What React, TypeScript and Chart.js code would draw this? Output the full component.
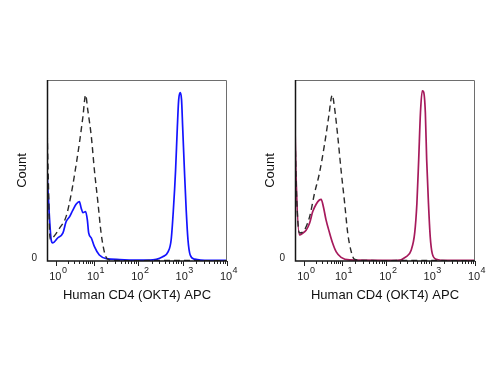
import React, { useEffect, useRef } from "react";
import { Chart, registerables } from "chart.js";

Chart.register(...registerables);

// ---- Text / tick data ----
const X_TITLE = "Human CD4 (OKT4) APC";
const Y_TITLE = "Count";
const Y_TICK_VALUES = [0];
const Y_TICK_LABELS = ["0"];
const DECADE_BASE = "10";
const DECADE_EXPONENTS = ["0", "1", "2", "3", "4"];
// display position (in decade units on the biexponential display axis) of each decade label
const DECADE_POSITIONS = [0.15, 1, 2, 3, 4];
const MINOR_MULTIPLIERS = [2, 3, 4, 5, 6, 7, 8, 9];
const X_MIN = -0.06;
const X_MAX = 4;
const Y_MIN = 0;
const Y_MAX = 100;

// ---- Left panel: stained (blue) vs isotype control (dashed) ----
const LEFT_CTRL_X = [-0.06, -0.03, 0.01, 0.11, 0.22, 0.37, 0.49, 0.56, 0.67, 0.75, 0.81, 0.86, 0.94, 1.01, 1.09, 1.16, 1.24, 1.31, 1.5, 2.0, 2.5, 3.0, 3.5, 4.0];
const LEFT_CTRL_Y = [76, 45, 12, 14, 18, 24.5, 37.5, 47.5, 65, 79.7, 91.7, 83.4, 68.7, 50, 32, 15.5, 4.4, 1, 0.3, 0.2, 0.3, 0.3, 0.2, 0.2];

const LEFT_STAIN_X = [-0.06, -0.04, 0.035, 0.07, 0.18, 0.3, 0.37, 0.45, 0.52, 0.6, 0.67, 0.71, 0.75, 0.81, 0.85, 0.88, 0.94, 1.01, 1.12, 1.28, 1.58, 1.87, 2.25, 2.55, 2.67, 2.74, 2.79, 2.84, 2.88, 2.91, 2.945, 2.975, 3.0, 3.04, 3.08, 3.12, 3.17, 3.27, 3.6, 4.0];
const LEFT_STAIN_Y = [50, 40, 11.6, 10, 12.7, 15.5, 21.7, 24.5, 28, 31.5, 32.8, 29.3, 26.7, 27.3, 22.7, 15.5, 12.7, 7.9, 3.3, 1.3, 0.8, 0.5, 0.5, 2.4, 5, 11.6, 28, 50, 74, 89, 93, 89, 74, 50, 28, 11.6, 3.3, 1, 0.3, 0.3];

// ---- Right panel: stained (crimson) vs isotype control (dashed) ----
const RIGHT_CTRL_X = [-0.06, -0.03, 0.04, 0.15, 0.27, 0.38, 0.49, 0.61, 0.7, 0.78, 0.83, 0.905, 0.98, 1.06, 1.13, 1.21, 1.28, 1.5, 2.0, 2.5, 3.0, 3.5, 4.0];
const RIGHT_CTRL_Y = [72, 40, 15.5, 17, 24.5, 37.4, 48.4, 65, 79.7, 91.7, 85, 68.7, 50, 32, 15.3, 5, 1, 0.3, 0.2, 0.3, 0.3, 0.2, 0.2];

const RIGHT_STAIN_X = [-0.06, -0.04, 0.04, 0.12, 0.19, 0.27, 0.34, 0.42, 0.49, 0.53, 0.58, 0.64, 0.72, 0.79, 0.87, 0.98, 1.17, 1.91, 2.25, 2.45, 2.56, 2.64, 2.69, 2.73, 2.77, 2.81, 2.84, 2.88, 2.91, 2.95, 2.99, 3.035, 3.125, 3.38, 4.0];
const RIGHT_STAIN_Y = [74, 50, 14.4, 15.5, 17, 21, 27.3, 31.5, 33.7, 34.1, 30, 22.7, 15.5, 9.8, 5, 2, 0.6, 0.4, 0.4, 2.4, 6, 15.5, 32, 56, 82, 94, 93.5, 82, 56, 32, 13.4, 4.2, 1, 0.3, 0.3];

const FONT = '"Liberation Sans", Arial, Helvetica, sans-serif';

const flowAxesPlugin = {
  id: "flowAxes",
  afterDraw(chart: any) {
    const { ctx, chartArea: a, scales } = chart;
    const xs = scales.x;
    ctx.save();
    // frame: top & right thin gray
    ctx.strokeStyle = "#6e6e6e";
    ctx.lineWidth = 1;
    ctx.beginPath();
    ctx.moveTo(a.left, a.top + 0.5);
    ctx.lineTo(a.right - 0.5, a.top + 0.5);
    ctx.lineTo(a.right - 0.5, a.bottom);
    ctx.stroke();
    // left & bottom axes dark
    ctx.strokeStyle = "#151515";
    ctx.lineWidth = 1.5;
    ctx.beginPath();
    ctx.moveTo(a.left + 0.5, a.top);
    ctx.lineTo(a.left + 0.5, a.bottom);
    ctx.lineTo(a.right, a.bottom);
    ctx.stroke();

    // ticks
    ctx.lineWidth = 1;
    ctx.strokeStyle = "#222";
    const yAxis = a.bottom;
    ctx.beginPath();
    for (let i = 0; i < DECADE_POSITIONS.length; i++) {
      const px = Math.round(xs.getPixelForValue(DECADE_POSITIONS[i])) + 0.5;
      ctx.moveTo(px, yAxis);
      ctx.lineTo(px, yAxis + 5);
      if (i < DECADE_POSITIONS.length - 1) {
        const p0 = DECADE_POSITIONS[i];
        const p1 = DECADE_POSITIONS[i + 1];
        for (const m of MINOR_MULTIPLIERS) {
          const v = p0 + (p1 - p0) * Math.log10(m);
          const mx = Math.round(xs.getPixelForValue(v)) + 0.5;
          ctx.moveTo(mx, yAxis);
          ctx.lineTo(mx, yAxis + 3);
        }
      }
    }
    ctx.stroke();

    // decade labels 10^k
    ctx.fillStyle = "#222";
    for (let i = 0; i < DECADE_POSITIONS.length; i++) {
      const px = xs.getPixelForValue(DECADE_POSITIONS[i]);
      ctx.font = `11px ${FONT}`;
      ctx.textAlign = "center";
      ctx.textBaseline = "alphabetic";
      const w = ctx.measureText(DECADE_BASE).width;
      ctx.fillText(DECADE_BASE, px - 1, yAxis + 19);
      ctx.font = `9px ${FONT}`;
      ctx.textAlign = "left";
      ctx.fillText(DECADE_EXPONENTS[i], px - 1 + w / 2 + 0.5, yAxis + 12);
    }
    ctx.restore();
  },
};

type PanelProps = {
  stainX: number[];
  stainY: number[];
  ctrlX: number[];
  ctrlY: number[];
  color: string;
  left: number;
};

function Panel({ stainX, stainY, ctrlX, ctrlY, color, left }: PanelProps) {
  const ref = useRef<HTMLCanvasElement>(null);
  useEffect(() => {
    const chart = new Chart(ref.current as HTMLCanvasElement, {
      type: "line",
      data: {
        datasets: [
          {
            data: ctrlX.map((x, i) => ({ x, y: ctrlY[i] })),
            borderColor: "#2a2a2a",
            borderWidth: 1.4,
            borderDash: [6, 4],
            pointRadius: 0,
            fill: false,
            cubicInterpolationMode: "monotone",
          },
          {
            data: stainX.map((x, i) => ({ x, y: stainY[i] })),
            borderColor: color,
            borderWidth: 1.7,
            pointRadius: 0,
            fill: false,
            cubicInterpolationMode: "monotone",
          },
        ],
      } as any,
      options: {
        animation: false,
        responsive: false,
        maintainAspectRatio: false,
        devicePixelRatio: 1,
        layout: { padding: { top: 80, right: 23, bottom: 0, left: 0 } },
        plugins: { legend: { display: false }, tooltip: { enabled: false } },
        scales: {
          x: {
            type: "linear",
            min: X_MIN,
            max: X_MAX,
            grid: { display: false },
            border: { display: false },
            ticks: { display: false },
            title: {
              display: true,
              text: X_TITLE,
              color: "#111",
              font: { family: FONT, size: 13 },
              padding: { top: 0, bottom: 72 },
            },
            afterFit: (s: any) => {
              s.height = 114;
            },
          },
          y: {
            type: "linear",
            min: Y_MIN,
            max: Y_MAX,
            grid: { display: false, drawTicks: false },
            border: { display: false },
            afterBuildTicks: (s: any) => {
              s.ticks = Y_TICK_VALUES.map((v) => ({ value: v }));
            },
            ticks: {
              padding: 10,
              labelOffset: -3,
              color: "#222",
              font: { family: FONT, size: 10 },
              callback: (v: any) => {
                const idx = Y_TICK_VALUES.indexOf(Number(v));
                return idx >= 0 ? Y_TICK_LABELS[idx] : "";
              },
            },
            title: {
              display: true,
              text: Y_TITLE,
              color: "#111",
              font: { family: FONT, size: 13 },
              padding: { top: 15, bottom: 0 },
            },
            afterFit: (s: any) => {
              s.width = 47;
            },
          },
        },
      } as any,
      plugins: [flowAxesPlugin],
    });
    return () => chart.destroy();
  }, []);
  return (
    <canvas
      ref={ref}
      width={250}
      height={375}
      style={{ position: "absolute", left, top: 0, width: 250, height: 375 }}
    />
  );
}

export default function App() {
  return (
    <div style={{ position: "absolute", left: 0, top: 0, width: 500, height: 375, background: "#fff" }}>
      <Panel stainX={LEFT_STAIN_X} stainY={LEFT_STAIN_Y} ctrlX={LEFT_CTRL_X} ctrlY={LEFT_CTRL_Y} color="#1414ff" left={0} />
      <Panel stainX={RIGHT_STAIN_X} stainY={RIGHT_STAIN_Y} ctrlX={RIGHT_CTRL_X} ctrlY={RIGHT_CTRL_Y} color="#a61a5c" left={248} />
    </div>
  );
}
